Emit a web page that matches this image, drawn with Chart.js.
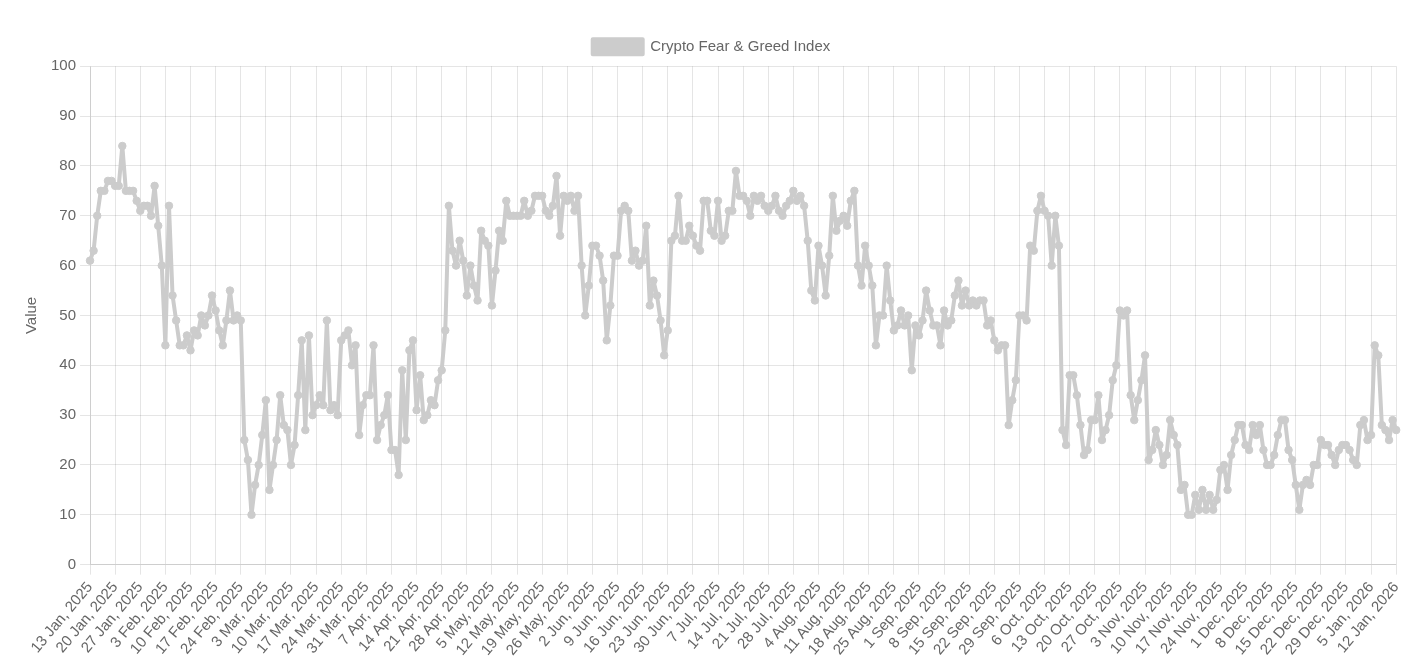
<!DOCTYPE html>
<html lang="en">
  <head>
    <meta charset="UTF-8" />
    <title>Crypto Fear &amp; Greed Index</title>
    <script src="https://cdn.jsdelivr.net/npm/chart.js"></script>
    <style>
      body { margin: 0; background: #fff; }
      #wrap { position: absolute; left: 9px; top: 22px; width: 1405px; height: 641px; }
    </style>
  </head>
  <body>
    <div id="wrap"><canvas id="fngChart"></canvas></div>
    <script>
      // daily index values, 13 Jan 2025 .. 12 Jan 2026
      const jan2025 = [61, 63, 70, 75, 75, 77, 77, 76, 76, 84, 75, 75, 75, 73, 71, 72, 72, 70, 76];
      const feb2025 = [68, 60, 44, 72, 54, 49, 44, 44, 46, 43, 47, 46, 50, 48, 50, 54, 51, 47, 44, 49, 55, 49, 50, 49, 25, 21, 10, 16];
      const mar2025 = [20, 26, 33, 15, 20, 25, 34, 28, 27, 20, 24, 34, 45, 27, 46, 30, 32, 34, 32, 49, 31, 32, 30, 45, 46, 47, 40, 44, 26, 32, 34];
      const apr2025 = [34, 44, 25, 28, 30, 34, 23, 23, 18, 39, 25, 43, 45, 31, 38, 29, 30, 33, 32, 37, 39, 47, 72, 63, 60, 65, 61, 54, 60, 56];
      const may2025 = [53, 67, 65, 64, 52, 59, 67, 65, 73, 70, 70, 70, 70, 73, 70, 71, 74, 74, 74, 71, 70, 72, 78, 66, 74, 73, 74, 71, 74, 60, 50];
      const jun2025 = [56, 64, 64, 62, 57, 45, 52, 62, 62, 71, 72, 71, 61, 63, 60, 61, 68, 52, 57, 54, 49, 42, 47, 65, 66, 74, 65, 65, 68, 66];
      const jul2025 = [64, 63, 73, 73, 67, 66, 73, 65, 66, 71, 71, 79, 74, 74, 73, 70, 74, 73, 74, 72, 71, 72, 74, 71, 70, 72, 73, 75, 73, 74, 72];
      const aug2025 = [65, 55, 53, 64, 60, 54, 62, 74, 67, 69, 70, 68, 73, 75, 60, 56, 64, 60, 56, 44, 50, 50, 60, 53, 47, 48, 51, 48, 50, 39, 48];
      const sep2025 = [46, 49, 55, 51, 48, 48, 44, 51, 48, 49, 54, 57, 52, 55, 52, 53, 52, 53, 53, 48, 49, 45, 43, 44, 44, 28, 33, 37, 50, 50];
      const oct2025 = [49, 64, 63, 71, 74, 71, 70, 60, 70, 64, 27, 24, 38, 38, 34, 28, 22, 23, 29, 29, 34, 25, 27, 30, 37, 40, 51, 50, 51, 34, 29];
      const nov2025 = [33, 37, 42, 21, 23, 27, 24, 20, 22, 29, 26, 24, 15, 16, 10, 10, 14, 11, 15, 11, 14, 11, 13, 19, 20, 15, 22, 25, 28, 28];
      const dec2025 = [24, 23, 28, 26, 28, 23, 20, 20, 22, 26, 29, 29, 23, 21, 16, 11, 16, 17, 16, 20, 20, 25, 24, 24, 22, 20, 23, 24, 24, 23, 21];
      const jan2026 = [20, 28, 29, 25, 26, 44, 42, 28, 27, 25, 29, 27];

      const values = [].concat(jan2025, feb2025, mar2025, apr2025, may2025, jun2025,
        jul2025, aug2025, sep2025, oct2025, nov2025, dec2025, jan2026);

      const monthNames = ["Jan", "Feb", "Mar", "Apr", "May", "Jun", "Jul", "Aug", "Sep", "Oct", "Nov", "Dec"];
      const startDate = new Date(Date.UTC(2025, 0, 13));
      const labels = values.map((v, i) => {
        const d = new Date(startDate.getTime() + i * 86400000);
        return d.getUTCDate() + " " + monthNames[d.getUTCMonth()] + ", " + d.getUTCFullYear();
      });

      const lineGrey = "rgb(204, 204, 204)";

      Chart.defaults.font.size = 15;
      Chart.defaults.color = "#666";

      // a little extra room under the legend
      const legendGap = {
        id: "legendGap",
        beforeInit(chart) {
          const fitOrig = chart.legend.fit;
          chart.legend.fit = function () {
            fitOrig.bind(chart.legend)();
            this.height += 2;
          };
        },
      };

      const ctx = document.getElementById("fngChart").getContext("2d");
      const fngChart = new Chart(ctx, {
        type: "line",
        data: {
          labels: labels,
          datasets: [
            {
              label: "Crypto Fear & Greed Index",
              data: values,
              borderColor: lineGrey,
              backgroundColor: lineGrey,
              borderWidth: 4,
              borderJoinStyle: "round",
              pointRadius: 3.75,
              pointBorderWidth: 1,
              pointBackgroundColor: lineGrey,
              tension: 0,
            },
          ],
        },
        options: {
          responsive: true,
          maintainAspectRatio: false,
          animation: false,
          plugins: {
            legend: {
              labels: { boxWidth: 50, boxHeight: 15, padding: 17.25 },
            },
            tooltip: { enabled: false },
          },
          scales: {
            x: {
              ticks: {
                autoSkip: false,
                maxRotation: 50,
                minRotation: 50,
                padding: 4,
                callback: function (val, index) {
                  return index % 7 === 0 ? this.getLabelForValue(val) : null;
                },
              },
              grid: { color: "rgba(0,0,0,0.1)", tickLength: 10 },
            },
            y: {
              min: 0,
              max: 100,
              ticks: { stepSize: 10, padding: 4 },
              title: { display: true, text: "Value", padding: { top: 13.5, bottom: 6.5 } },
              grid: { color: "rgba(0,0,0,0.1)", tickLength: 10 },
            },
          },
        },
        plugins: [legendGap],
      });
    </script>
  </body>
</html>
